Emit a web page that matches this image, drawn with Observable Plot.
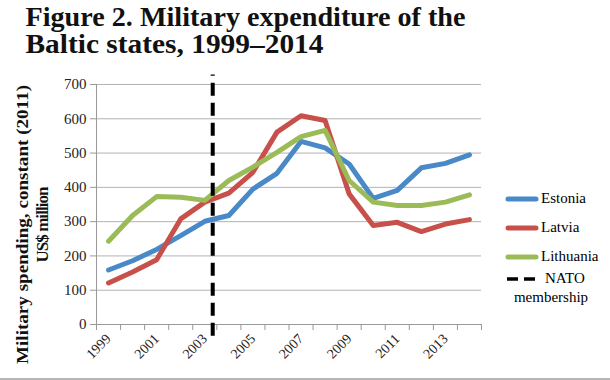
<!DOCTYPE html>
<html><head><meta charset="utf-8">
<script src="https://cdn.jsdelivr.net/npm/d3@7"></script>
<script src="https://cdn.jsdelivr.net/npm/@observablehq/plot@0.6"></script>
<style>
body{margin:0;background:#fff;}
#wrap{position:relative;width:610px;height:380px;overflow:hidden;}
#legend{position:absolute;left:505px;top:184px;font-family:"Liberation Serif",serif;font-size:15px;color:#000;}
.li{display:flex;align-items:center;height:29px;}
.li svg{margin-right:2px;}
#border{position:absolute;left:0;top:378px;width:610px;height:2px;background:#b5b5b5;}
</style>
</head><body><div id="wrap"><div id="chart"></div><div id="legend"></div><div id="border"></div></div>
<script>
const years = [1999,2000,2001,2002,2003,2004,2005,2006,2007,2008,2009,2010,2011,2012,2013,2014];
const estonia   = [159,186,219,259,301,318,395,441,534,515,468,368,391,457,470,495];
const latvia    = [121,153,189,308,357,383,444,561,609,595,381,289,298,271,293,306];
const lithuania = [243,318,373,371,362,420,459,502,548,566,420,357,347,347,357,378];
const seriesNames = ["Estonia","Latvia","Lithuania"];
const seriesColors = ["#4a89c8","#c8504b","#9bbb59"];
const natoYear = 2003.33;
const yTicks = [0,100,200,300,400,500,600,700];
const xLabelYears = [1999,2001,2003,2005,2007,2009,2011,2013];
const xBoundaries = [1998.5,1999.5,2000.5,2001.5,2002.5,2003.5,2004.5,2005.5,2006.5,2007.5,2008.5,2009.5,2010.5,2011.5,2012.5,2013.5,2014.5];
const titleLines = ["Figure 2. Military expenditure of the", "Baltic states, 1999–2014"];
const yLabelLines = ["Military spending, constant (2011)", "US$ million"];

const allSeries = [estonia, latvia, lithuania];
const rows = [];
seriesNames.forEach((name, i) => years.forEach((yr, j) => rows.push({country: name, year: yr, value: allSeries[i][j]})));

const serif = "'Liberation Serif', serif";

const chart = Plot.plot({
  width: 610, height: 380,
  marginLeft: 96, marginRight: 129, marginTop: 84, marginBottom: 56,
  style: {fontFamily: serif, background: "#fff", overflow: "visible"},
  x: {domain: [1998.5, 2014.5]},
  y: {domain: [0, 700]},
  color: {domain: seriesNames, range: seriesColors},
  marks: [
    Plot.gridY(yTicks, {stroke: "#b3b3b3", strokeOpacity: 1, strokeWidth: 1}),
    Plot.ruleX([1998.5], {y1: 0, y2: 700, stroke: "#999"}),
    Plot.ruleY([0], {stroke: "#999"}),
    Plot.axisY(yTicks, {tickSize: 6, stroke: "#999", tickPadding: 4, fontSize: 15, fill: "#222", label: null}),
    Plot.axisX(xBoundaries, {tickSize: 6, stroke: "#999", tickFormat: () => "", label: null}),
    Plot.axisX(xLabelYears, {tickSize: 0, tickRotate: -45, tickPadding: 12, fontSize: 14, fill: "#222", tickFormat: d => String(d), label: null}),
    Plot.line(rows, {x: "year", y: "value", z: "country", stroke: "country", strokeWidth: 5, strokeLinejoin: "round", strokeLinecap: "round"}),
    Plot.ruleX([natoYear], {y1: -34, y2: 728, stroke: "#000", strokeWidth: 4, strokeDasharray: "13,7"}),
    Plot.text([titleLines.join("\n")], {frameAnchor: "top-left", dx: -71, dy: -78, textAnchor: "start", lineAnchor: "top", fontSize: 26.5, fontWeight: "bold", fill: "#111", lineHeight: 1.02, fontFamily: serif}),
    Plot.text([yLabelLines.join("\n")], {frameAnchor: "left", dx: -65, dy: 20, rotate: -90, textAnchor: "middle", fontSize: 17, fontWeight: "bold", fill: "#111", lineHeight: 1.18, fontFamily: serif})
  ]
});
document.getElementById("chart").appendChild(chart);

// fit title / axis-label lines to the reference widths
const fit = {
  [titleLines[0]]: [440, "spacingAndGlyphs"],
  [titleLines[1]]: [298, "spacingAndGlyphs"],
  [yLabelLines[0]]: [279, "spacingAndGlyphs"],
  [yLabelLines[1]]: [76, "spacing"]
};
d3.select(chart).selectAll("tspan").each(function() {
  const f = fit[this.textContent];
  if (f) { this.setAttribute("textLength", f[0]); this.setAttribute("lengthAdjust", f[1]); }
});

// legend
const legend = document.getElementById("legend");
seriesNames.forEach((n, i) => {
  const d = document.createElement("div"); d.className = "li";
  d.innerHTML = `<svg width="34" height="8"><line x1="3" x2="31" y1="4" y2="4" stroke="${seriesColors[i]}" stroke-width="5" stroke-linecap="round"/></svg><span>${n}</span>`;
  legend.appendChild(d);
});
const nd = document.createElement("div");
nd.style.cssText = "display:flex;align-items:flex-start;margin-top:-2px;";
nd.innerHTML = `<div style="text-align:center;line-height:19px;position:relative;width:92px;"><svg width="34" height="8" style="position:absolute;left:0;top:6px"><line x1="2" x2="33" y1="4" y2="4" stroke="#000" stroke-width="3.5" stroke-dasharray="11,6"/></svg><div style="padding-left:40px;text-align:left;">NATO</div><div>membership</div></div>`;
legend.appendChild(nd);
</script>
</body></html>
